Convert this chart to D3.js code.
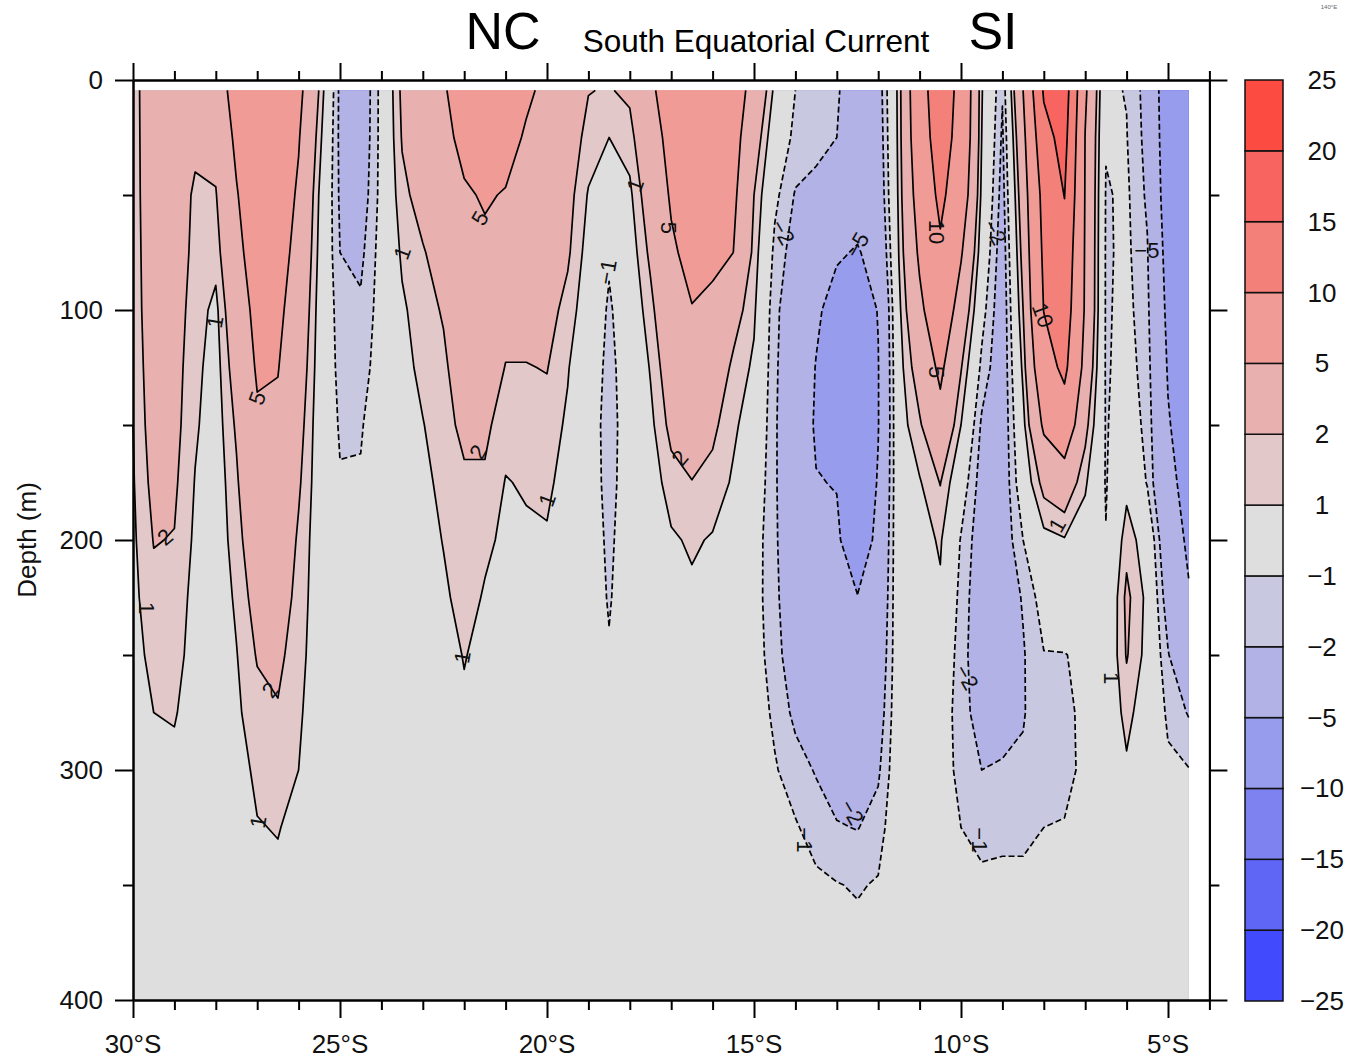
<!DOCTYPE html>
<html><head><meta charset="utf-8">
<script src="https://cdn.jsdelivr.net/npm/d3@7"></script>
<style>
body{margin:0;background:#fff;}
svg{display:block;}
text{font-family:"Liberation Sans",Arial,Helvetica,sans-serif;}
</style>
</head><body>
<svg id="chart" width="1350" height="1060"></svg>
<script>
// ---------------- DATA ----------------
const lats = [-30,-29.5,-29,-28.5,-28,-27.5,-27,-26.5,-26,-25.5,-25,-24.5,-24,-23.5,-23,-22.5,-22,-21.5,-21,-20.5,-20,-19.5,-19,-18.5,-18,-17.5,-17,-16.5,-16,-15.5,-15,-14.5,-14,-13.5,-13,-12.5,-12,-11.5,-11,-10.5,-10,-9.5,-9,-8.5,-8,-7.5,-7,-6.5,-6,-5.5,-5,-4.5];
const depths = [4.5,25,50,75,100,125,150,175,200,225,250,275,300,325,350,375,400];
// one vertical profile (values at the depths above) per latitude
const velocityByLatitude = [
[1.3,1.3,1.3,1.25,1.2,1.1,1.0,0.9,0.8,0.7,0.5,0.4,0.3,0.2,0.2,0.1,0.1],
[3.5,3.4,3.3,3.2,3.1,2.9,2.7,2.4,2.05,1.7,1.4,1.0,0.75,0.6,0.5,0.4,0.3],
[3.0,2.9,2.8,2.7,2.6,2.5,2.4,2.2,1.95,1.7,1.45,1.1,0.7,0.6,0.5,0.4,0.3],
[3.0,2.3,1.8,1.7,1.5,1.3,1.15,0.95,0.8,0.6,0.5,0.4,0.3,0.2,0.2,0.1,0.1],
[3.5,2.6,1.9,1.4,0.7,0.5,0.4,0.3,0.3,0.2,0.2,0.1,0.1,0.1,0.1,0.1,0.1],
[6.2,5.6,4.8,4.2,3.5,2.8,2.2,1.8,1.5,1.2,0.95,0.8,0.6,0.5,0.4,0.3,0.2],
[8.0,7.8,7.2,6.5,5.8,5.3,4.6,4.0,3.2,2.6,2.1,1.6,1.2,0.95,0.7,0.5,0.4],
[7.5,7.3,6.8,6.2,5.6,5.1,4.5,4.0,3.4,2.8,2.3,1.9,1.4,1.05,0.8,0.6,0.5],
[5.8,5.2,4.6,4.1,3.6,3.1,2.6,2.2,1.8,1.6,1.4,1.2,1.0,0.7,0.5,0.4,0.3],
[1.9,1.4,0.9,0.7,0.5,0.4,0.3,0.3,0.3,0.3,0.3,0.2,0.2,0.1,0.1,0.1,0.1],
[-2.3,-2.3,-2.2,-2.0,-1.6,-1.4,-1.15,-0.9,-0.6,-0.4,-0.2,-0.1,0,0,0,0,0],
[-3.2,-3.1,-2.8,-2.3,-1.8,-1.5,-1.1,-0.9,-0.6,-0.3,-0.2,-0.1,0,0,0,0,0],
[-0.6,-0.6,-0.6,-0.5,-0.5,-0.4,-0.3,-0.2,-0.1,0,0,0,0,0,0,0,0],
[2.3,2.1,1.7,1.2,0.8,0.6,0.4,0.3,0.2,0.1,0.1,0,0,0,0,0,0],
[4.0,3.3,2.5,1.9,1.6,1.3,0.95,0.7,0.5,0.4,0.3,0.2,0.1,0.1,0,0,0],
[4.6,4.0,3.3,2.6,2.1,1.8,1.6,1.3,1.05,0.8,0.6,0.4,0.3,0.2,0.1,0.1,0],
[7.0,6.0,4.6,3.8,3.2,2.7,2.3,1.8,1.6,1.4,1.05,0.85,0.6,0.4,0.3,0.2,0.1],
[7.8,6.8,5.3,4.4,3.6,2.9,2.3,1.8,1.2,0.9,0.7,0.5,0.4,0.3,0.2,0.1,0.1],
[7.2,6.3,4.8,3.7,2.5,1.95,1.35,0.95,0.8,0.6,0.5,0.4,0.3,0.2,0.1,0.1,0],
[5.6,4.6,3.8,3.1,2.5,1.95,1.5,1.1,0.85,0.6,0.5,0.4,0.3,0.2,0.1,0.1,0],
[4.2,3.6,3.2,2.9,2.5,2.05,1.6,1.2,0.9,0.7,0.5,0.4,0.3,0.2,0.1,0.1,0],
[3.0,2.8,2.5,2.2,1.6,1.1,0.8,0.6,0.4,0.3,0.2,0.1,0.1,0,0,0,0],
[2.05,1.6,0.9,0.5,0.2,-0.3,-0.5,-0.5,-0.4,-0.3,-0.2,-0.1,0,0,0,0,0],
[1.9,1.0,0.1,-0.8,-1.2,-1.3,-1.35,-1.3,-1.2,-1.1,-0.9,-0.6,-0.4,-0.3,-0.2,-0.1,0],
[2.3,1.5,0.75,0.3,0,-0.4,-0.5,-0.5,-0.4,-0.3,-0.2,-0.1,0,0,0,0,0],
[4.6,3.9,3.0,2.3,1.6,1.1,0.7,0.4,0.2,0.1,0,0,0,0,0,0,0],
[6.2,5.8,5.3,4.6,3.8,3.0,2.4,1.5,0.85,0.6,0.4,0.3,0.2,0.1,0.1,0,0],
[7.5,7.2,6.5,5.8,4.9,4.0,3.0,1.95,1.15,0.8,0.6,0.5,0.3,0.2,0.1,0.1,0],
[7.3,7.0,6.2,5.4,4.6,3.3,2.3,1.6,0.9,0.6,0.4,0.3,0.2,0.1,0.1,0,0],
[6.5,6.1,5.6,5.0,2.7,1.7,1.2,0.85,0.6,0.4,0.3,0.2,0.1,0,0,0,0],
[4.0,3.0,2.0,1.6,1.2,0.8,0.4,0.0,-0.4,-0.5,-0.5,-0.4,-0.2,-0.1,0,0,0],
[0.7,0,-0.7,-1.3,-1.7,-1.8,-1.85,-1.85,-1.8,-1.7,-1.5,-1.2,-0.9,-0.6,-0.4,-0.3,-0.2],
[-1.0,-1.3,-2.1,-2.6,-3.0,-3.1,-3.2,-3.2,-3.2,-3.1,-2.9,-2.3,-1.5,-0.9,-0.5,-0.3,-0.2],
[-1.5,-1.7,-2.3,-3.5,-4.6,-5.1,-5.3,-4.9,-4.4,-4.0,-3.5,-2.9,-2.1,-1.4,-0.8,-0.5,-0.3],
[-1.9,-2.0,-2.6,-4.7,-6.0,-6.5,-6.4,-5.1,-4.6,-4.1,-3.7,-3.2,-2.7,-1.9,-0.95,-0.6,-0.4],
[-2.6,-3.0,-3.8,-5.2,-6.5,-7.3,-7.6,-7.4,-6.8,-4.9,-4.3,-3.5,-2.8,-2.05,-1.1,-0.7,-0.5],
[-2.8,-3.0,-3.3,-4.0,-4.9,-5.1,-5.1,-4.8,-4.3,-3.8,-3.3,-2.8,-2.2,-1.5,-0.9,-0.6,-0.4],
[1.4,1.35,1.25,1.05,0.7,0.5,0.4,0.3,0.2,0.1,0,0,0,0,0,0,0],
[8.0,7.6,6.6,5.5,4.3,2.9,1.8,0.9,0.5,0.3,0.2,0.1,0,0,0,0,0],
[13,12.3,11,9.3,7.5,5.6,4.0,2.05,1.15,0.8,0.3,-0.2,-0.3,-0.2,-0.1,0,0],
[8.5,8.2,7.2,5.3,3.6,2.1,1.0,-0.2,-1.1,-1.4,-1.6,-1.6,-1.4,-1.0,-0.6,-0.4,-0.3],
[1.1,1.0,0.7,0.2,-0.5,-1.3,-2.2,-2.6,-2.8,-2.9,-2.8,-2.5,-2.0,-1.3,-0.8,-0.5,-0.3],
[-1.9,-2.2,-2.5,-2.8,-3.0,-3.0,-3.0,-3.0,-2.9,-2.8,-2.7,-2.4,-1.9,-1.2,-0.8,-0.5,-0.3],
[5.0,4.0,3.2,2.6,2.0,1.3,0.6,0.0,-1.0,-1.9,-2.1,-2.1,-1.8,-1.3,-0.7,-0.5,-0.3],
[15.5,13.5,11.5,10.8,10.1,8,5.5,2.5,0.6,-0.4,-1.05,-1.2,-1.25,-1.0,-0.7,-0.5,-0.3],
[17.5,16.5,15.1,13.5,12.5,11,7.5,3.2,0.9,0.1,-1.05,-1.2,-1.25,-0.95,-0.6,-0.4,-0.3],
[5.5,4.9,4.8,4.7,4.6,3.8,2.5,1.2,0.3,-0.4,-0.7,-0.8,-0.8,-0.6,-0.4,-0.3,-0.2],
[-0.8,-0.9,-1.1,-1.15,-1.15,-1.15,-1.1,-1.1,-0.95,-0.6,-0.3,-0.1,0,0,0,0,0],
[-1.05,-0.95,-0.8,-0.75,-0.65,-0.5,-0.3,0.6,1.6,2.3,2.1,1.4,0.8,0.4,0.2,0.1,0],
[-2.5,-2.4,-2.2,-1.9,-1.7,-1.5,-1.3,-1.1,0.3,0.7,0.6,0.2,-0.2,-0.3,-0.3,-0.2,-0.1],
[-7.0,-6.8,-6.5,-6.0,-5.6,-5.2,-4.8,-4.3,-3.6,-2.8,-1.9,-1.2,-0.8,-0.6,-0.4,-0.3,-0.2],
[-9.0,-8.8,-8.4,-8.0,-7.5,-7.0,-6.4,-5.9,-5.4,-4.8,-3.9,-2.1,-0.95,-0.6,-0.4,-0.3,-0.2]
];
const levels = [-25,-20,-15,-10,-5,-2,-1,1,2,5,10,15,20,25];
const bandColors = ['#414bfd','#5f66f6','#7d82f0','#989cec','#b2b2e6','#c8c8e1','#dedede','#e2c8c8','#e8b0af','#f09b96','#f4807a','#f8645f','#fc4b41'];
const levelLabels = ['−25','−20','−15','−10','−5','−2','−1','1','2','5','10','15','20','25'];
const latMajorTicks = [-30,-25,-20,-15,-10,-5];
const latMinorTicks = [-29,-28,-27,-26,-24,-23,-22,-21,-19,-18,-17,-16,-14,-13,-12,-11,-9,-8,-7,-6,-4];
const latTickLabels = ['30°S','25°S','20°S','15°S','10°S','5°S'];
const depthMajorTicks = [0,100,200,300,400];
const depthMinorTicks = [50,150,250,350];
const contourLabels = [
 {lat:-29.23,depth:198.7,text:'2',angle:-40},
 {lat:-29.66,depth:229.6,text:'1',angle:90},
 {lat:-28.02,depth:105.2,text:'1',angle:-80},
 {lat:-27.0,depth:138.3,text:'5',angle:-70},
 {lat:-26.69,depth:265.2,text:'2',angle:-50},
 {lat:-26.98,depth:322.6,text:'1',angle:-80},
 {lat:-23.5,depth:75.2,text:'1',angle:-70},
 {lat:-21.62,depth:60.0,text:'5',angle:-60},
 {lat:-21.67,depth:161.7,text:'2',angle:-60},
 {lat:-20.0,depth:182.6,text:'1',angle:-70},
 {lat:-22.05,depth:250.9,text:'1',angle:-80},
 {lat:-18.55,depth:83.5,text:'−1',angle:-80},
 {lat:-17.87,depth:45.7,text:'1',angle:-70},
 {lat:-17.07,depth:64.3,text:'5',angle:90},
 {lat:-16.79,depth:164.3,text:'2',angle:-50},
 {lat:-14.3,depth:66.1,text:'−2',angle:60},
 {lat:-12.51,depth:71.7,text:'−5',angle:-60},
 {lat:-10.58,depth:66.1,text:'10',angle:90},
 {lat:-10.58,depth:127.0,text:'5',angle:90},
 {lat:-9.18,depth:66.1,text:'−2',angle:60},
 {lat:-8.02,depth:102.2,text:'10',angle:70},
 {lat:-7.68,depth:193.5,text:'1',angle:-60},
 {lat:-5.51,depth:73.9,text:'−5',angle:0},
 {lat:-9.86,depth:259.6,text:'−2',angle:60},
 {lat:-6.35,depth:260.0,text:'1',angle:90},
 {lat:-12.63,depth:318.3,text:'−2',angle:60},
 {lat:-13.77,depth:330.4,text:'−1',angle:90},
 {lat:-9.54,depth:330.4,text:'−1',angle:90}
];

// ---------------- CHART ----------------
const svg = d3.select('#chart');
const x = d3.scaleLinear().domain([-30, -4]).range([133, 1209.4]);
const y = d3.scaleLinear().domain([0, 400]).range([80, 1000]);

const n = lats.length, m = depths.length;
const grid = new Array(n * m);
velocityByLatitude.forEach((col, i) => col.forEach((v, j) => { grid[j * n + i] = v; }));
const latAt = d3.scaleLinear().domain(d3.range(n)).range(lats);
const depthAt = d3.scaleLinear().domain(d3.range(m)).range(depths);
const gx = c => x(latAt(Math.max(0, Math.min(n - 1, c - 0.5))));
const gy = c => y(depthAt(Math.max(0, Math.min(m - 1, c - 0.5))));
const contours = d3.contours().size([n, m]).thresholds(levels)(grid);

const L = x(lats[0]), R = x(lats[n - 1]), T = y(depths[0]), B = y(depths[m - 1]);

// filled bands
const fillG = svg.append('g');
fillG.append('rect').attr('x', L).attr('y', T).attr('width', R - L).attr('height', B - T).attr('fill', bandColors[0]);
contours.forEach((c, k) => {
  const d = c.coordinates.map(poly => poly.map(ring =>
    'M' + ring.map(p => gx(p[0]).toFixed(2) + ',' + gy(p[1]).toFixed(2)).join('L') + 'Z').join('')).join('');
  if (d) fillG.append('path').attr('d', d).attr('fill', bandColors[Math.min(k, bandColors.length - 1)]).attr('fill-rule', 'evenodd');
});

// contour lines
const eps = 0.05;
const sameEdge = (a, b) =>
  (Math.abs(a[0] - L) < eps && Math.abs(b[0] - L) < eps) ||
  (Math.abs(a[0] - R) < eps && Math.abs(b[0] - R) < eps) ||
  (Math.abs(a[1] - T) < eps && Math.abs(b[1] - T) < eps) ||
  (Math.abs(a[1] - B) < eps && Math.abs(b[1] - B) < eps);
const lineG = svg.append('g');
contours.forEach((c, k) => {
  const lv = levels[k];
  let d = '';
  c.coordinates.forEach(poly => poly.forEach(ring => {
    const pts = ring.map(p => [gx(p[0]), gy(p[1])]);
    let pen = false;
    for (let i = 1; i < pts.length; i++) {
      const a = pts[i - 1], b = pts[i];
      if (sameEdge(a, b)) { pen = false; continue; }
      if (!pen) { d += 'M' + a[0].toFixed(2) + ',' + a[1].toFixed(2); pen = true; }
      d += 'L' + b[0].toFixed(2) + ',' + b[1].toFixed(2);
    }
  }));
  if (d) lineG.append('path').attr('d', d).attr('fill', 'none').attr('stroke', '#000')
    .attr('stroke-width', 1.7).attr('stroke-linejoin', 'round')
    .attr('stroke-dasharray', lv < 0 ? '6,3' : null);
});

// contour labels
const labG = svg.append('g');
contourLabels.forEach(l => {
  labG.append('text').attr('transform', `translate(${x(l.lat)},${y(l.depth)}) rotate(${l.angle})`)
    .attr('text-anchor', 'middle').attr('dy', '0.35em').attr('font-size', 22).attr('fill', '#111').text(l.text);
});

// axes
function addAxis(gen, tr, vals, size) {
  const g = svg.append('g').attr('transform', tr)
    .call(gen.tickValues(vals).tickSize(size).tickSizeOuter(0).tickFormat(''));
  g.select('.domain').attr('stroke', '#000').attr('stroke-width', 2);
  g.selectAll('.tick line').attr('stroke', '#000').attr('stroke-width', 2);
  return g;
}
addAxis(d3.axisBottom(x), 'translate(0,1000)', latMajorTicks, 18);
addAxis(d3.axisBottom(x), 'translate(0,1000)', latMinorTicks, 10);
addAxis(d3.axisTop(x), 'translate(0,80)', latMajorTicks, 17);
addAxis(d3.axisTop(x), 'translate(0,80)', latMinorTicks, 9);
addAxis(d3.axisLeft(y), 'translate(133,0)', depthMajorTicks, 18);
addAxis(d3.axisLeft(y), 'translate(133,0)', depthMinorTicks, 10);
addAxis(d3.axisRight(y), `translate(${x(-4)},0)`, depthMajorTicks, 18);
addAxis(d3.axisRight(y), `translate(${x(-4)},0)`, depthMinorTicks, 10);

// tick labels
latMajorTicks.forEach((v, i) => {
  svg.append('text').attr('x', x(v)).attr('y', 1053).attr('text-anchor', 'middle')
    .attr('font-size', 26).attr('fill', '#111').text(latTickLabels[i]);
});
depthMajorTicks.forEach(v => {
  svg.append('text').attr('x', 103).attr('y', y(v) + 9).attr('text-anchor', 'end')
    .attr('font-size', 26).attr('fill', '#111').text(v);
});
svg.append('text').attr('transform', 'translate(36,540) rotate(-90)').attr('text-anchor', 'middle')
  .attr('font-size', 26).attr('fill', '#111').text('Depth (m)');

// titles
svg.append('text').attr('x', 503).attr('y', 49).attr('text-anchor', 'middle').attr('font-size', 52).attr('fill', '#000').text('NC');
svg.append('text').attr('x', 756).attr('y', 52).attr('text-anchor', 'middle').attr('font-size', 31.5).attr('fill', '#000').text('South Equatorial Current');
svg.append('text').attr('x', 993).attr('y', 49).attr('text-anchor', 'middle').attr('font-size', 52).attr('fill', '#000').text('SI');
svg.append('text').attr('x', 1329).attr('y', 9).attr('text-anchor', 'middle').attr('font-size', 6).attr('fill', '#666').text('140°E');

// colour bar
const cb = d3.scaleLinear().domain([0, bandColors.length]).range([1001, 80]);
const cbG = svg.append('g');
bandColors.forEach((col, i) => {
  cbG.append('rect').attr('x', 1245).attr('y', cb(i + 1)).attr('width', 38).attr('height', cb(i) - cb(i + 1))
    .attr('fill', col).attr('stroke', '#111').attr('stroke-width', 1.5);
});
levelLabels.forEach((t, i) => {
  cbG.append('text').attr('x', 1322).attr('y', cb(i) + 9).attr('text-anchor', 'middle')
    .attr('font-size', 26).attr('fill', '#111').text(t);
});
</script>
</body></html>
